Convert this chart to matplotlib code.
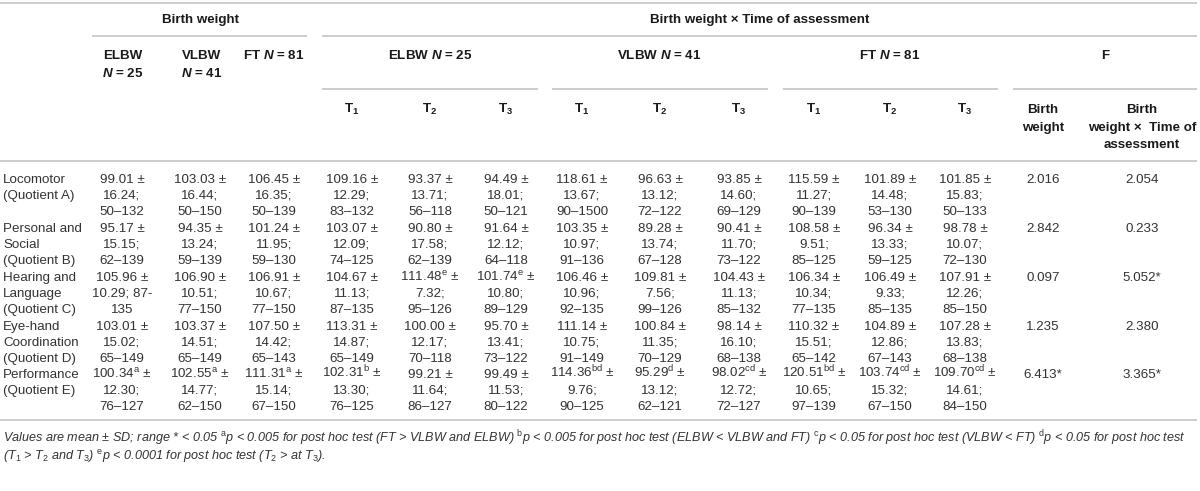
import matplotlib
matplotlib.use("Agg")
import matplotlib.pyplot as plt

plt.rcParams['font.family'] = ['Liberation Sans', 'DejaVu Sans']
plt.rcParams['mathtext.fontset'] = 'custom'
plt.rcParams['mathtext.rm'] = 'Liberation Sans'
plt.rcParams['mathtext.it'] = 'Liberation Sans:italic:bold'
plt.rcParams['mathtext.bf'] = 'Liberation Sans:bold'

# Table content
row_labels = [
    ["Locomotor", "(Quotient A)"],
    ["Personal and", "Social", "(Quotient B)"],
    ["Hearing and", "Language", "(Quotient C)"],
    ["Eye-hand", "Coordination", "(Quotient D)"],
    ["Performance", "(Quotient E)"],
]

means = [
    ["99.01", "103.03", "106.45", "109.16", "93.37", "94.49", "118.61", "96.63", "93.85", "115.59", "101.89", "101.85"],
    ["95.17", "94.35", "101.24", "103.07", "90.80", "91.64", "103.35", "89.28", "90.41", "108.58", "96.34", "98.78"],
    ["105.96", "106.90", "106.91", "104.67", "111.48", "101.74", "106.46", "109.81", "104.43", "106.34", "106.49", "107.91"],
    ["103.01", "103.37", "107.50", "113.31", "100.00", "95.70", "111.14", "100.84", "98.14", "110.32", "104.89", "107.28"],
    ["100.34", "102.55", "111.31", "102.31", "99.21", "99.49", "114.36", "95.29", "98.02", "120.51", "103.74", "109.70"],
]

sups = [
    ["", "", "", "", "", "", "", "", "", "", "", ""],
    ["", "", "", "", "", "", "", "", "", "", "", ""],
    ["", "", "", "", "e", "e", "", "", "", "", "", ""],
    ["", "", "", "", "", "", "", "", "", "", "", ""],
    ["a", "a", "a", "b", "", "", "bd", "d", "cd", "bd", "cd", "cd"],
]

sds = [
    ["16.24", "16.44", "16.35", "12.29", "13.71", "18.01", "13.67", "13.12", "14.60", "11.27", "14.48", "15.83"],
    ["15.15", "13.24", "11.95", "12.09", "17.58", "12.12", "10.97", "13.74", "11.70", "9.51", "13.33", "10.07"],
    ["10.29", "10.51", "10.67", "11.13", "7.32", "10.80", "10.96", "7.56", "11.13", "10.34", "9.33", "12.26"],
    ["15.02", "14.51", "14.42", "14.87", "12.17", "13.41", "10.75", "11.35", "16.10", "15.51", "12.86", "13.83"],
    ["12.30", "14.77", "15.14", "13.30", "11.64", "11.53", "9.76", "13.12", "12.72", "10.65", "15.32", "14.61"],
]

ranges = [
    ["50–132", "50–150", "50–139", "83–132", "56–118", "50–121", "90–1500", "72–122", "69–129", "90–139", "53–130", "50–133"],
    ["62–139", "59–139", "59–130", "74–125", "62–139", "64–118", "91–136", "67–128", "73–122", "85–125", "59–125", "72–130"],
    ["87-135", "77–150", "77–150", "87–135", "95–126", "89–129", "92–135", "99–126", "85–132", "77–135", "85–135", "85–150"],
    ["65–149", "65–149", "65–143", "65–149", "70–118", "73–122", "91–149", "70–129", "68–138", "65–142", "67–143", "68–138"],
    ["76–127", "62–150", "67–150", "76–125", "86–127", "80–122", "90–125", "62–121", "72–127", "97–139", "67–150", "84–150"],
]

f_birth = ["2.016", "2.842", "0.097", "1.235", "6.413*"]
f_inter = ["2.054", "0.233", "5.052*", "2.380", "3.365*"]

footnote = [
    r"Values are mean ± SD; range * < 0.05 $^{\mathrm{a}}$p < 0.005 for post hoc test (FT > VLBW and ELBW) "
    r"$^{\mathrm{b}}$p < 0.005 for post hoc test (ELBW < VLBW and FT) $^{\mathrm{c}}$p < 0.05 for post hoc test "
    r"(VLBW < FT) $^{\mathrm{d}}$p < 0.05 for post hoc test",
    r"(T$_{1}$ > T$_{2}$ and T$_{3}$) $^{\mathrm{e}}$p < 0.0001 for post hoc test (T$_{2}$ > at T$_{3}$).",
]

# Layout (pixel coordinates)
col_x = [122, 200, 274, 352, 430, 506, 582, 660, 739, 814, 890, 965]
f_x = [1043, 1142]
row_top = [178, 227, 276, 325, 373]
pitch = 16.3
fs = 9.6
txt = '#333333'
hdr = '#1a1a1a'
rule = '#c9c9c9'

fig = plt.figure(figsize=(12, 4.91), dpi=100)
ax = fig.add_axes([0, 0, 1, 1])
ax.set_xlim(0, 1200)
ax.set_ylim(491, 0)
ax.axis('off')


def hline(y, x0, x1):
    ax.plot([x0, x1], [y, y], color=rule, lw=1.3, solid_capstyle='butt')


def put(x, y, s, size=fs, **kw):
    # y is the visual middle of the line, draw on baseline
    ax.text(x, y + 4.6, s, va='baseline', fontsize=size, **kw)


# rules
hline(3, 0, 1197)
hline(36, 92, 307)
hline(36, 322, 1197)
for x0, x1 in [(322, 538), (552, 768), (783, 998), (1013, 1197)]:
    hline(89, x0, x1)
hline(161, 0, 1197)
hline(420, 0, 1197)

# header
bold = dict(fontweight='bold', color=hdr, ha='center')
put(200, 18, "Birth weight", **bold)
put(760, 18, "Birth weight × Time of assessment", **bold)
put(123, 54, "ELBW", **bold)
put(123, 72, r"$N$ = 25", **bold)
put(202, 54, "VLBW", **bold)
put(202, 72, r"$N$ = 41", **bold)
put(274, 54, r"FT $N$ = 81", **bold)
put(430, 54, r"ELBW $N$ = 25", **bold)
put(659, 54, r"VLBW $N$ = 41", **bold)
put(890, 54, r"FT $N$ = 81", **bold)
put(1105, 54, "F", **bold)
for k in range(9):
    put(col_x[3 + k], 108, r"T$_{\mathbf{%d}}$" % (k % 3 + 1), **bold)
put(f_x[0], 108, "Birth", **bold)
put(f_x[0], 126, "weight", **bold)
put(f_x[1], 108, "Birth", **bold)
put(f_x[1], 126, "weight ×  Time of", **bold)
put(f_x[1], 143, "assessment", **bold)

# body
for i, labels in enumerate(row_labels):
    y0 = row_top[i]
    for j, lab in enumerate(labels):
        put(3, y0 + j * pitch, lab, ha='left', color=txt)
    for c in range(12):
        m = means[i][c]
        if sups[i][c]:
            m = m + r"$^{\mathrm{%s}}$" % sups[i][c]
        lines = [m + " ±", sds[i][c] + ";", ranges[i][c]]
        if i == 2 and c == 0:
            lo, hi = ranges[i][c].split("-")
            lines = [m + " ±", sds[i][c] + "; " + lo + "-", hi]
        for j, s in enumerate(lines):
            put(col_x[c], y0 + j * pitch, s, ha='center', color=txt)
    put(f_x[0], y0, f_birth[i], ha='center', color=txt)
    put(f_x[1], y0, f_inter[i], ha='center', color=txt)

# footnote
for j, s in enumerate(footnote):
    put(3, 438 + j * 17, s, size=9.1, ha='left', color=txt, style='italic')

fig.savefig("out.png", dpi=100)
